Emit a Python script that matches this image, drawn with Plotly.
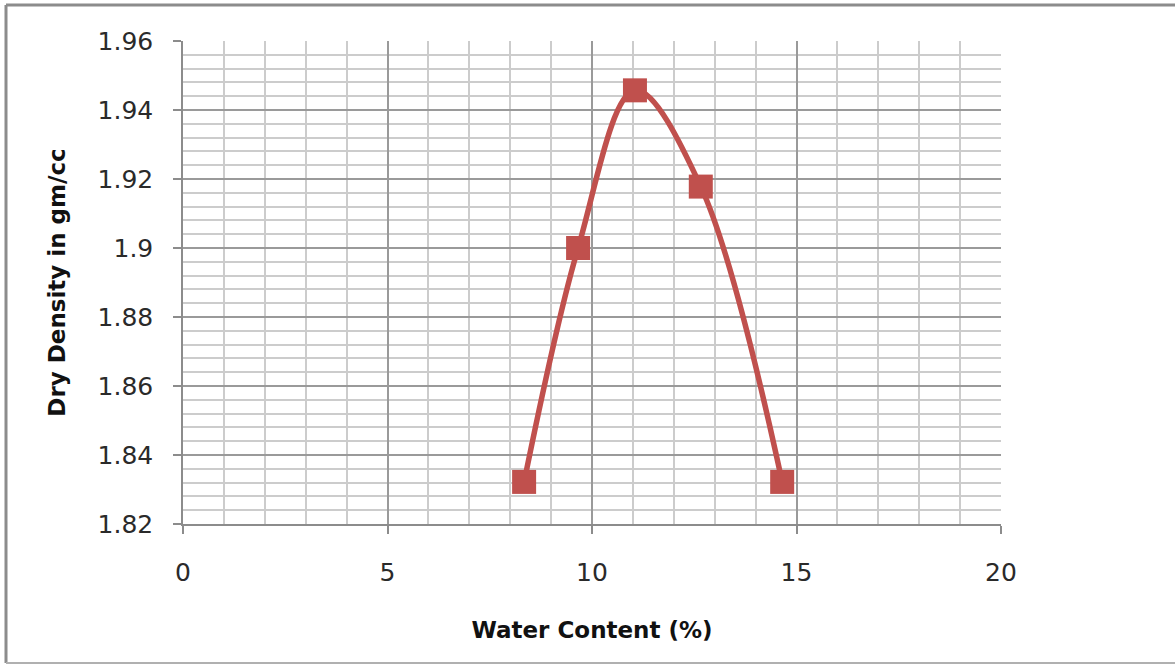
import plotly.graph_objects as go

water_content = [8.34, 9.66, 11.05, 12.66, 14.65]
dry_density = [1.8322, 1.900, 1.9457, 1.9178, 1.8322]

x_title = "Water Content (%)"
y_title = "Dry Density in gm/cc"

RED = "#C0504D"
FONT = "DejaVu Sans"

fig = go.Figure()
fig.add_trace(go.Scatter(
    x=water_content, y=dry_density,
    mode="lines+markers",
    line=dict(color=RED, width=5.5, shape="spline", smoothing=1.0),
    marker=dict(symbol="square", size=24, color=RED, line=dict(width=0)),
    showlegend=False,
))

W, H = 1175, 664
L, R, T, B = 183, 174, 41, 140
pw, ph = W - L - R, H - T - B

def px_to_paper_x(px):
    return (px - L) / pw

def px_to_paper_y(py):
    return (H - B - py) / ph

border = dict(color="#8c8c8c", width=3)
fig.add_shape(type="line", xref="paper", yref="paper",
              x0=px_to_paper_x(6), x1=px_to_paper_x(1180),
              y0=px_to_paper_y(5), y1=px_to_paper_y(5), line=border)
fig.add_shape(type="line", xref="paper", yref="paper",
              x0=px_to_paper_x(6), x1=px_to_paper_x(6),
              y0=px_to_paper_y(5), y1=px_to_paper_y(663), line=border)
fig.add_shape(type="line", xref="paper", yref="paper",
              x0=px_to_paper_x(6), x1=px_to_paper_x(1180),
              y0=px_to_paper_y(663), y1=px_to_paper_y(663),
              line=dict(color="#b0b0b0", width=2))

fig.update_layout(
    width=W, height=H,
    margin=dict(l=L, r=R, t=T, b=B, pad=0),
    paper_bgcolor="white", plot_bgcolor="white",
    font=dict(family=FONT, size=25, color="#2a2a2a"),
    xaxis=dict(
        range=[0, 20], dtick=5, tick0=0,
        showgrid=True, gridcolor="#9a9a9a", gridwidth=1.5,
        minor=dict(dtick=1, showgrid=True, gridcolor="#cccccc", gridwidth=1.5),
        showline=True, linecolor="#8c8c8c", linewidth=1.5,
        ticks="outside", ticklen=8, tickcolor="#8c8c8c", tickwidth=1.5,
        ticklabelstandoff=17,
        zeroline=False,
        title=dict(text=x_title, font=dict(family=FONT, size=23, color="#111111", weight="bold"), standoff=36),
    ),
    yaxis=dict(
        range=[1.82, 1.96], dtick=0.02, tick0=1.82,
        showgrid=True, gridcolor="#9a9a9a", gridwidth=1.5,
        minor=dict(dtick=0.004, showgrid=True, gridcolor="#cccccc", gridwidth=1.5),
        showline=True, linecolor="#8c8c8c", linewidth=1.5,
        ticks="outside", ticklen=8, tickcolor="#8c8c8c", tickwidth=1.5,
        ticklabelstandoff=15,
        tickformat="~g",
        zeroline=False,
        title=dict(text=y_title, font=dict(family=FONT, size=23, color="#111111", weight="bold"), standoff=26),
    ),
)

fig.write_html("out.html", config={"displayModeBar": False},
               post_script="document.body.style.margin='0';document.body.style.overflow='hidden';")
